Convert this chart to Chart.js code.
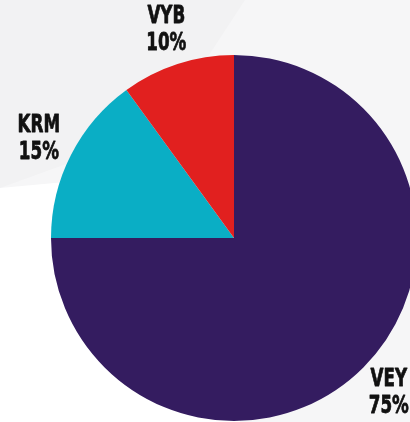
<!DOCTYPE html>
<html>
<head>
<meta charset="utf-8">
<script src="https://cdn.jsdelivr.net/npm/chart.js@4"></script>
<style>
  html, body { margin: 0; padding: 0; }
  body { width: 410px; height: 422px; overflow: hidden; position: relative; background: #f6f6f7; }
  #bgGray { position: absolute; left: 0; top: 0; width: 410px; height: 422px; background: #f2f2f3;
            clip-path: polygon(0 0, 245px 0, 160px 130px, 0 188px); }
  #bgLight { position: absolute; left: 0; top: 0; width: 410px; height: 422px; background: #ffffff;
             clip-path: polygon(0 188px, 240px 166px, 240px 422px, 0 422px); }
  #wrap { position: absolute; left: 0; top: 0; width: 430px; height: 422px; }
</style>
</head>
<body>
<div id="bgGray"></div>
<div id="bgLight"></div>
<div id="wrap"><canvas id="pieChart"></canvas></div>
<script>
// Chart data
const labels = ['VEY', 'KRM', 'VYB'];
const shares = [75, 15, 10];
const sliceColors = ['#341c60', '#0aaec5', '#e1201f'];

// Draws the "NAME / xx%" labels just outside each slice (narrow heavy type)
const outsideLabels = {
    id: 'outsideLabels',
    afterDatasetsDraw(chart) {
        const ctx = chart.ctx;
        const arcs = chart.getDatasetMeta(0).data;
        const squeeze = 0.67;
        ctx.save();
        ctx.fillStyle = '#111111';
        ctx.strokeStyle = '#111111';
        ctx.lineWidth = 0.8;
        ctx.lineJoin = 'round';
        ctx.textAlign = 'center';
        ctx.textBaseline = 'middle';
        ctx.font = 'bold 25px "DejaVu Sans", sans-serif';
        arcs.forEach((arc, i) => {
            const mid = (arc.startAngle + arc.endAngle) / 2;
            const r = arc.outerRadius + 36;
            const x = arc.x + Math.cos(mid) * r;
            const y = arc.y + Math.sin(mid) * r;
            ctx.save();
            ctx.translate(x, y);
            ctx.scale(squeeze, 1);
            [labels[i], shares[i] + '%'].forEach((t, k) => {
                const ty = k === 0 ? -13.5 : 13.5;
                ctx.fillText(t, 0, ty);
                ctx.strokeText(t, 0, ty);
            });
            ctx.restore();
        });
        ctx.restore();
    }
};

new Chart(document.getElementById('pieChart'), {
    type: 'pie',
    data: {
        labels: labels,
        datasets: [{
            data: shares,
            backgroundColor: sliceColors,
            borderWidth: 0
        }]
    },
    options: {
        responsive: true,
        maintainAspectRatio: false,
        animation: false,
        layout: { padding: { left: 51, top: 55, right: 13, bottom: 1 } },
        plugins: {
            legend: { display: false },
            tooltip: { enabled: false }
        }
    },
    plugins: [outsideLabels]
});
</script>
</body>
</html>
